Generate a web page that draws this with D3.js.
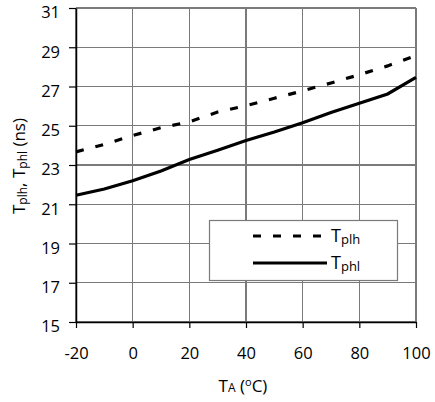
<!DOCTYPE html>
<html><head><meta charset="utf-8">
<script src="https://cdn.jsdelivr.net/npm/d3@7"></script>
<style>
body{margin:0;background:#fff;}
svg text{font-family:"Open Sans",sans-serif;fill:#000;}
</style></head>
<body><svg id="c" width="435" height="402"></svg>
<script>
const temps = [-20,-10,0,10,20,30,40,50,60,70,80,90,100];
const tplh  = [23.67,24.05,24.5,24.9,25.2,25.7,26.02,26.4,26.78,27.18,27.6,28.05,28.58];
const tphl  = [21.46,21.78,22.2,22.7,23.28,23.75,24.25,24.68,25.15,25.68,26.15,26.62,27.46];
const xTicks = [-20,0,20,40,60,80,100];
const yTicks = [15,17,19,21,23,25,27,29,31];

const svg = d3.select("#c");
const L=76,R=416,T=8,B=322;
const x = d3.scaleLinear().domain([-20,100]).range([L,R]);
const y = d3.scaleLinear().domain([15,31]).range([B,T]);
const grid="#7a7a7a";

// grid
svg.append("g").selectAll("line").data(xTicks).join("line")
  .attr("x1",d=>x(d)).attr("x2",d=>x(d)).attr("y1",T).attr("y2",B)
  .attr("stroke",grid).attr("stroke-width",1.2).attr("shape-rendering","crispEdges");
svg.append("g").selectAll("line").data(yTicks).join("line")
  .attr("x1",L).attr("x2",R).attr("y1",d=>y(d)).attr("y2",d=>y(d))
  .attr("stroke",grid).attr("stroke-width",1.2).attr("shape-rendering","crispEdges");

// axes
const fmt = d => String(d);
const ya = svg.append("g").attr("transform",`translate(${L},0)`)
  .call(d3.axisLeft(y).tickValues(yTicks).tickFormat(fmt).tickSize(7).tickSizeOuter(0).tickPadding(9));
ya.selectAll("text").attr("font-size",16.5).attr("dy","0.72em").attr("y",-2);
const xa = svg.append("g").attr("transform",`translate(0,${B})`)
  .call(d3.axisBottom(x).tickValues(xTicks).tickFormat(fmt).tickSize(6).tickSizeOuter(0));
xa.selectAll("text").attr("font-size",16.5).attr("y",37).attr("dy",0);
svg.selectAll(".domain").attr("stroke","#000").attr("stroke-width",1.5);
svg.selectAll(".tick line").attr("stroke","#000").attr("stroke-width",1.2);
svg.selectAll(".tick text").attr("font-family","'Open Sans',sans-serif");

// lines
const line = d3.line().x((d,i)=>x(temps[i])).y(d=>y(d));
svg.append("path").datum(tplh).attr("d",line).attr("fill","none")
  .attr("stroke","#000").attr("stroke-width",3.2).attr("stroke-dasharray","8,12");
svg.append("path").datum(tphl).attr("d",line).attr("fill","none")
  .attr("stroke","#000").attr("stroke-width",3.2);

// legend
const lg = svg.append("g");
lg.append("rect").attr("x",209.5).attr("y",220.5).attr("width",188).attr("height",60)
  .attr("fill","#fff").attr("stroke",grid).attr("stroke-width",1.2);
const items=[{name:"plh",dash:"8,12",yy:236},{name:"phl",dash:null,yy:263}];
items.forEach(it=>{
  lg.append("line").attr("x1",253).attr("x2",327).attr("y1",it.yy).attr("y2",it.yy)
    .attr("stroke","#000").attr("stroke-width",3.2).attr("stroke-dasharray",it.dash);
  const t = lg.append("text").attr("x",331).attr("y",it.yy+6).attr("font-size",18);
  t.append("tspan").text("T");
  t.append("tspan").attr("font-size",13).attr("dy",2).text(it.name);
});

// x title
const xt = svg.append("text").attr("x",243).attr("y",392).attr("text-anchor","middle").attr("font-size",17);
xt.append("tspan").text("T");
xt.append("tspan").attr("font-size",12).text("A");
xt.append("tspan").text(" (");
xt.append("tspan").attr("font-size",11).attr("dy",-6).text("o");
xt.append("tspan").attr("dy",6).text("C)");

// y title
const yt = svg.append("text").attr("transform","translate(25,166) rotate(-90)")
  .attr("text-anchor","middle").attr("font-size",17);
yt.append("tspan").text("T");
yt.append("tspan").attr("font-size",12).attr("dy",2).text("plh");
yt.append("tspan").attr("dy",-2).text(", T");
yt.append("tspan").attr("font-size",12).attr("dy",2).text("phl");
yt.append("tspan").attr("dy",-2).text(" (ns)");
</script></body></html>
